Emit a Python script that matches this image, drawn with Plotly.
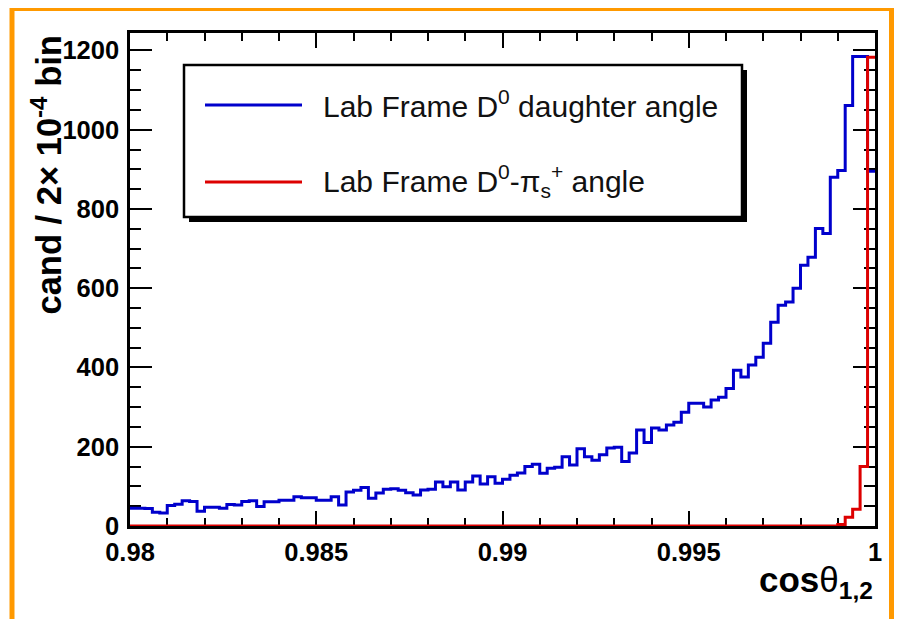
import plotly.graph_objects as go

# ---------------- data ----------------
bin_low = 0.98
bin_width = 0.0002
n_bins = 100

# Lab Frame D0 daughter angle (blue), counts per 2e-4 bin
blue_counts = [
    45, 45, 44, 35, 33, 52, 55, 64, 62, 37,
    47, 47, 45, 54, 53, 62, 64, 49, 61, 61,
    65, 65, 74, 71, 71, 65, 65, 74, 53, 86,
    90, 97, 70, 83, 93, 94, 90, 84, 78, 91,
    93, 111, 99, 111, 91, 111, 126, 106, 124, 108,
    118, 128, 134, 150, 156, 133, 146, 148, 175, 154,
    195, 175, 166, 180, 197, 199, 163, 184, 242, 211,
    247, 242, 255, 262, 287, 310, 310, 300, 318, 325,
    347, 393, 376, 406, 426, 461, 514, 557, 565, 600,
    658, 678, 751, 738, 880, 897, 1061, 1185, 1185, 895,
]

# Lab Frame D0 - pi_s angle (red)
red_counts = [0] * 95 + [4, 22, 42, 150, 1183]

x_tick_vals = [0.98, 0.985, 0.99, 0.995, 1.0]
x_tick_text = ["0.98", "0.985", "0.99", "0.995", "1"]
y_tick_vals = [0, 200, 400, 600, 800, 1000, 1200]
y_tick_text = ["0", "200", "400", "600", "800", "1000", "1200"]

legend_labels = ["Lab Frame D<sup>0</sup> daughter angle",
                 "Lab Frame D<sup>0</sup>-π<sub>s</sub><sup>+</sup> angle"]
colors = ["#0000CC", "#DD0000"]

y_max = 1244

# ---------------- geometry helpers (page pixel coords) ----------------
OFF = 8                      # body margin of the html page
W, H = 905 - OFF, 619 - OFF
PL, PR, PT, PB = 130, 875, 33, 526       # plot frame on the page
L, T = PL - OFF, PT - OFF
R, B = W - (PR - OFF), H - (PB - OFF)
PW, PH = PR - PL, PB - PT


def px(xp):
    return (xp - PL) / PW


def py(yp):
    return (PB - yp) / PH


edges = [bin_low + i * bin_width for i in range(n_bins + 1)]

FONT = "Liberation Sans, Arial, Helvetica, sans-serif"

fig = go.Figure()
for counts, col in zip([blue_counts, red_counts], colors):
    fig.add_trace(go.Scatter(
        x=edges, y=list(counts) + [counts[-1]],
        mode="lines", line=dict(color=col, width=3, shape="hv"),
        showlegend=False, hoverinfo="skip"))

axis_common = dict(
    showline=True, linecolor="black", linewidth=2.5, mirror="ticks",
    ticks="inside", tickcolor="black", tickwidth=2,
    showgrid=False, zeroline=False, layer="below traces",
    tickfont=dict(family=FONT, size=25.5, color="black", weight="bold"),
)

fig.update_xaxes(
    range=[bin_low, bin_low + n_bins * bin_width],
    tickmode="array", tickvals=x_tick_vals, ticktext=x_tick_text,
    ticklen=15, ticklabelstandoff=2,
    minor=dict(tick0=bin_low, dtick=0.001, ticks="inside", ticklen=8,
               tickwidth=2, tickcolor="black", showgrid=False),
    **axis_common)
fig.update_yaxes(
    range=[0, y_max],
    tickmode="array", tickvals=y_tick_vals, ticktext=y_tick_text,
    ticklen=22, ticklabelstandoff=3,
    minor=dict(tick0=0, dtick=50, ticks="inside", ticklen=11,
               tickwidth=2, tickcolor="black", showgrid=False),
    **axis_common)

shapes = []
# orange outer frame
shapes.append(dict(type="rect", xref="paper", yref="paper",
                   x0=px(12), x1=px(891.5), y0=py(660), y1=py(8.5),
                   line=dict(color="#FF9900", width=5), fillcolor="rgba(0,0,0,0)",
                   layer="above"))
# legend shadow + box
shapes.append(dict(type="rect", xref="paper", yref="paper",
                   x0=px(189), x1=px(747), y0=py(222), y1=py(70),
                   line=dict(color="black", width=0), fillcolor="black", layer="above"))
shapes.append(dict(type="rect", xref="paper", yref="paper",
                   x0=px(184), x1=px(742), y0=py(217), y1=py(65),
                   line=dict(color="black", width=2.5), fillcolor="white", layer="above"))
legend_y = [104, 181]
for yy, col in zip(legend_y, colors):
    shapes.append(dict(type="line", xref="paper", yref="paper",
                       x0=px(205), x1=px(302), y0=py(yy + 1), y1=py(yy + 1),
                       line=dict(color=col, width=3), layer="above"))

annotations = []
for yy, lab in zip(legend_y, legend_labels):
    annotations.append(dict(xref="paper", yref="paper", x=px(321), y=py(yy),
                            xanchor="left", yanchor="middle", showarrow=False,
                            text=lab, font=dict(family=FONT, size=30, color="#111111")))
# y-axis title
annotations.append(dict(xref="paper", yref="paper", x=px(46), y=py(34),
                        xanchor="center", yanchor="top", showarrow=False, textangle=-90,
                        text="<b>cand / 2× 10<sup>-4</sup> bin</b>",
                        font=dict(family=FONT, size=34.5, color="black")))
# x-axis title
annotations.append(dict(xref="paper", yref="paper", x=px(875), y=py(582),
                        xanchor="right", yanchor="middle", showarrow=False,
                        text="<b>cos</b>θ<sub><b>1,2</b></sub>",
                        font=dict(family=FONT, size=35, color="black")))

fig.update_layout(
    width=W, height=H,
    margin=dict(l=L, r=R, t=T, b=B, pad=0),
    paper_bgcolor="white", plot_bgcolor="white",
    shapes=shapes, annotations=annotations, showlegend=False,
)

fig.write_html("out.html")
